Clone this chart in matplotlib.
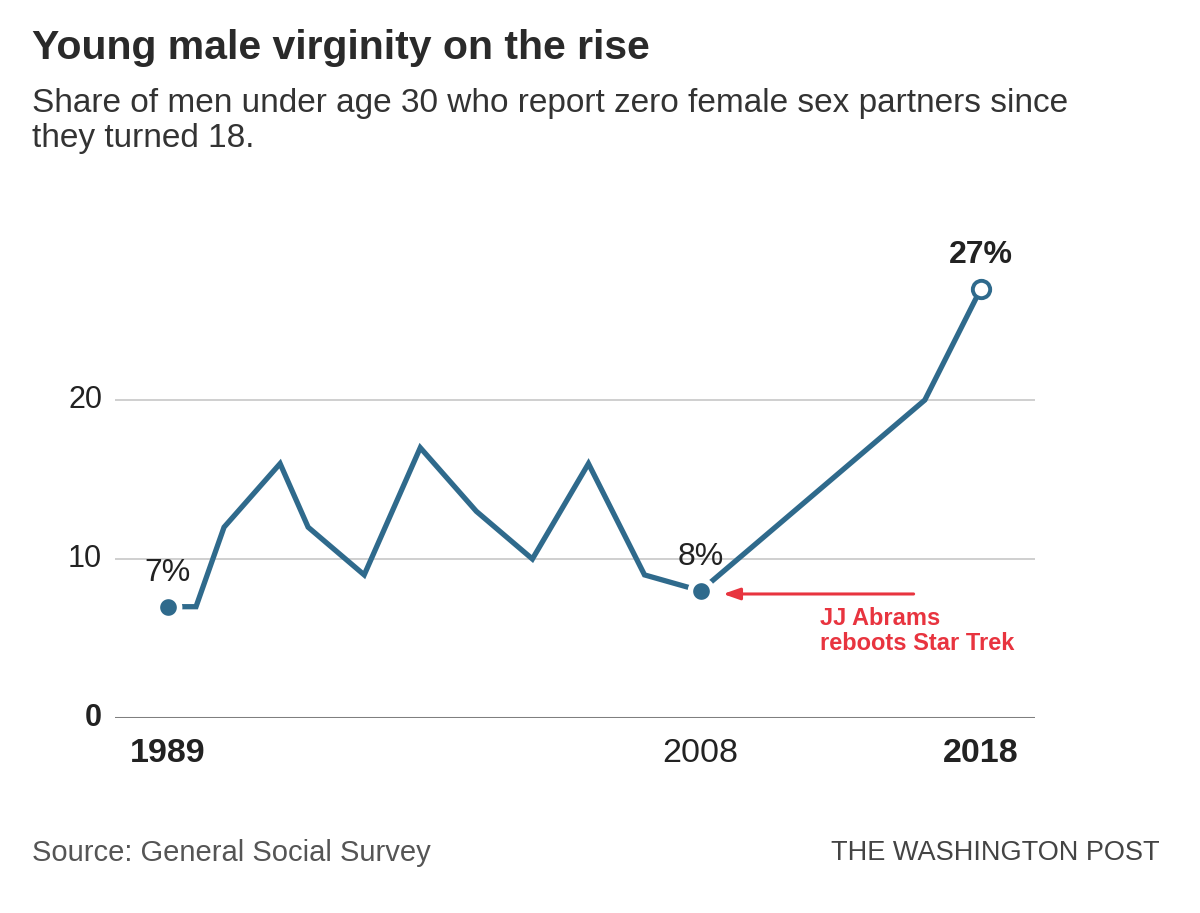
import matplotlib
matplotlib.use('Agg')
import matplotlib.pyplot as plt

# ------------------------------------------------------------------
#  DATA
# ------------------------------------------------------------------
years = [1989, 1990, 1991, 1993, 1994, 1996, 1998, 2000, 2002, 2004,
         2006, 2008, 2012, 2016, 2018]
share = [7, 7, 12, 16, 12, 9, 17, 13, 10, 16, 9, 8, 14, 20, 27]

y_ticks = [0, 10, 20]
x_ticks = [1989, 2008, 2018]
x_tick_bold = [True, False, True]

# highlighted points: label text
callouts = {1989: '7%', 2008: '8%', 2018: '27%'}

TITLE = 'Young male virginity on the rise'
SUBTITLE = ('Share of men under age 30 who report zero female sex partners since\n'
            'they turned 18.')
SOURCE = 'Source: General Social Survey'
CREDIT = 'THE WASHINGTON POST'
NOTE = 'JJ Abrams\nreboots Star Trek'

# ------------------------------------------------------------------
#  STYLE
# ------------------------------------------------------------------
plt.rcParams['font.family'] = ['Liberation Sans', 'DejaVu Sans']

LINE_C = '#2f6a8c'
TEXT_C = '#222222'
GRID_C = '#cfcfcf'
RED = '#e8343f'

fig = plt.figure(figsize=(12, 9.13), dpi=100)
ax = fig.add_axes([115 / 1200, (913 - 718) / 913, 920 / 1200, 477 / 913])

ax.set_xlim(1987.11, 2019.93)
ax.set_ylim(0, 30)
for s in ax.spines.values():
    s.set_visible(False)
ax.set_xticks([])
ax.set_yticks([])

# gridlines + baseline
for v in y_ticks:
    if v == 0:
        ax.axhline(v, color='#7f7f7f', lw=2.2, zorder=1)
    else:
        ax.axhline(v, color=GRID_C, lw=1.4, zorder=1)
    ax.text(-0.014, v, str(v), transform=ax.get_yaxis_transform(),
            ha='right', va='center', fontsize=22, color=TEXT_C,
            fontweight='bold' if v == 0 else 'normal')

# main line
ax.plot(years, share, color=LINE_C, lw=3.8, solid_joinstyle='miter', zorder=3)

# highlighted points
ax.plot([1989, 2008], [share[0], share[years.index(2008)]], 'o', ms=16,
        color=LINE_C, mec='white', mew=4, zorder=4)
ax.plot([2018], [share[-1]], 'o', ms=12.5, mfc='white', mec=LINE_C, mew=2.8, zorder=4)

for yr, lab in callouts.items():
    val = share[years.index(yr)]
    bold = yr == 2018
    ax.annotate(lab, (yr, val), xytext=(0, 24.5), textcoords='offset points',
                ha='center', va='center', fontsize=23, color=TEXT_C,
                fontweight='bold' if bold else 'normal', zorder=5)

# x labels
for yr, b in zip(x_ticks, x_tick_bold):
    ax.text(yr, -1.25, str(yr), ha='center', va='top', fontsize=24.5, color=TEXT_C,
            fontweight='bold' if b else 'normal', clip_on=False)

# red callout
ax.annotate('', xy=(2008.8, 7.8), xytext=(2015.6, 7.8),
            arrowprops=dict(arrowstyle='-|>,head_length=1.0,head_width=0.35',
                            color=RED, lw=2.2, shrinkA=0, shrinkB=0), zorder=5)
ax.text(2012.25, 7.0, NOTE, ha='left', va='top', fontsize=17, color=RED,
        fontweight='bold', linespacing=1.15, zorder=5)

# titles and footer
fig.text(32 / 1200, 1 - 48 / 913, TITLE, ha='left', va='center', fontsize=29.5,
         fontweight='bold', color='#2a2a2a')
fig.text(32 / 1200, 1 - 121 / 913, SUBTITLE, ha='left', va='center', fontsize=24,
         color='#333333', linespacing=1.15)
fig.text(32 / 1200, 1 - 853 / 913, SOURCE, ha='left', va='center', fontsize=21,
         color='#555555')
fig.text(1160 / 1200, 1 - 853 / 913, CREDIT, ha='right', va='center', fontsize=19.5,
         color='#444444')

fig.savefig('out.png', dpi=100, facecolor='white')
